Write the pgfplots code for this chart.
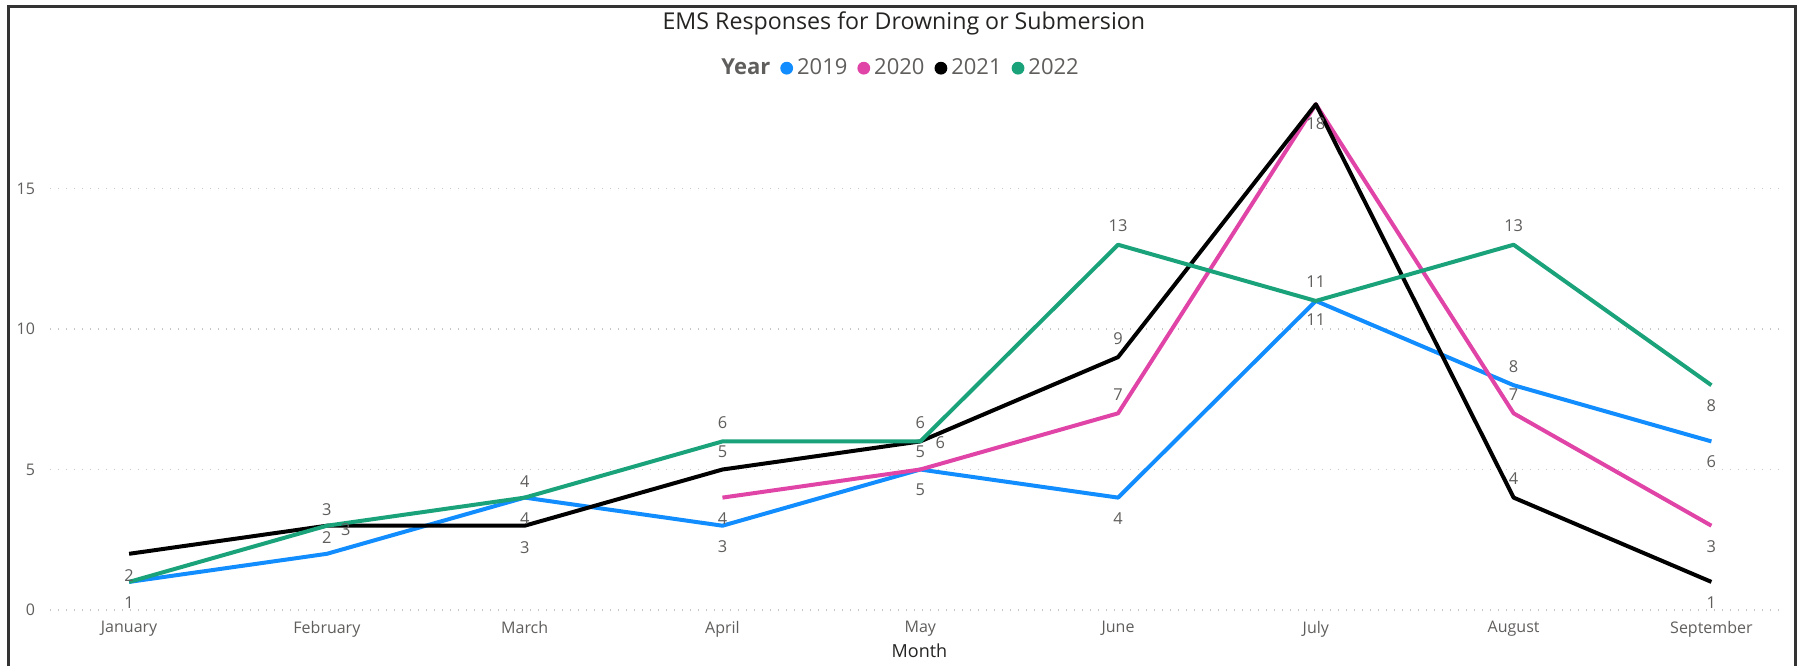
\documentclass[border=0pt]{standalone}
\usepackage{fontspec}
\setmainfont{Open Sans}
\usepackage{pgfplots}
\usepackage{pgfplotstable}
\pgfplotsset{compat=1.18}
\definecolor{c2019}{HTML}{118DFF}
\definecolor{c2020}{HTML}{E044A7}
\definecolor{c2021}{HTML}{000000}
\definecolor{c2022}{HTML}{1AA37A}
\definecolor{lblgray}{HTML}{605E5C}
\definecolor{titlegray}{HTML}{252423}
\definecolor{framegray}{HTML}{333333}

% x y dx dy lab  (dx, dy: label offset in pt)
\pgfplotstableread{
x y dx dy lab
0 1 0 -10.3 1
1 2 0 8.0 2
2 4 0 -10.3 4
3 3 0 -10.3 3
4 5 0 -10.3 5
5 4 0 -10.3 4
6 11 0 -9.6 11
7 8 0 9.2 8
8 6 0 -10.3 6
}\tblA
\pgfplotstableread{
x y dx dy lab
3 4 0 -10.3 4
4 5 0 8.9 5
5 7 0 9.1 7
6 18 0 0 {}
7 7 0 9.1 7
8 3 0 -10.3 3
}\tblB
\pgfplotstableread{
x y dx dy lab
0 2 0 -10.8 2
1 3 9.4 -1.8 3
2 3 0 -11.2 3
3 5 0 8.9 5
4 6 10 -0.7 6
5 9 0 9.0 9
6 18 0 -9.8 18
7 4 0 9.3 4
8 1 0 -10.5 1
}\tblC
\pgfplotstableread{
x y dx dy lab
0 1 0 0 {}
1 3 0 8.0 3
2 4 0 7.9 4
3 6 0 9.3 6
4 6 0 9.3 6
5 13 0 9.4 13
6 11 0 9.6 11
7 13 0 9.6 13
8 8 0 -10.3 8
}\tblD

\pgfplotsset{
  ems line/.style={
    line width=2pt, mark=none, line join=round,
    point meta=explicit symbolic,
    visualization depends on={\thisrow{dx}\as\mydx},
    visualization depends on={\thisrow{dy}\as\mydy},
    nodes near coords={\pgfplotspointmeta},
    every node near coord/.style={anchor=center, inner sep=0pt,
      xshift=\mydx pt, yshift=\mydy pt,
      font=\fontsize{8.2}{9.8}\selectfont, text=lblgray},
  },
}

\begin{document}
\begin{tikzpicture}
\useasboundingbox (0,0) rectangle (898.5pt,333pt);
\begin{axis}[
  at={(25pt,28pt)}, anchor=south west,
  scale only axis,
  width=866pt, height=258.5pt,
  xmin=-0.40, xmax=8.357,
  ymin=0, ymax=18.4,
  clip=false,
  axis line style={draw=none},
  major tick length=0pt,
  xtick={0,...,8},
  xticklabels={January,February,March,April,May,June,July,August,September},
  ytick={0,5,10,15},
  ymajorgrids=true,
  grid style={gray!45, line width=0.6pt, dash pattern=on 0.6pt off 3.4pt},
  /pgf/number format/assume math mode=true,
  tick label style={font=\fontsize{8}{9.6}\selectfont, text=lblgray},
  yticklabel style={xshift=-4pt},
  xticklabel style={yshift=-2pt},
  xlabel={Month},
  xlabel style={at={(axis description cs:0.502,0)}, anchor=center, yshift=-20.5pt,
    font=\fontsize{9}{10}\selectfont, text=titlegray},
  every axis title shift=0pt,
  title={EMS Responses for Drowning or Submersion},
  title style={at={(axis description cs:0.493,1.135)}, anchor=center,
    font=\fontsize{11.6}{13}\selectfont, text=titlegray},
  legend columns=5,
  legend image code/.code={\fill[#1, draw=none] (0pt,0pt) circle (3.2pt);},
  legend style={at={(axis description cs:0.4908,1.048)}, anchor=center,
    draw=none, fill=none, font=\fontsize{11}{12}\selectfont, text=lblgray,
    cells={anchor=west}, inner sep=0pt,
    /tikz/every even column/.append style={column sep=3pt}},
]
\addlegendimage{empty legend}
\addplot[ems line, c2019] table[x=x, y=y, meta=lab] {\tblA};
\addplot[ems line, c2020] table[x=x, y=y, meta=lab] {\tblB};
\addplot[ems line, c2021] table[x=x, y=y, meta=lab] {\tblC};
\addplot[ems line, c2022] table[x=x, y=y, meta=lab] {\tblD};
\legend{\textbf{Year},2019,2020,2021,2022}
\end{axis}
\draw[framegray, line width=1.5pt] (4pt,0pt) -- (4pt,329.5pt) -- (897.5pt,329.5pt) -- (897.5pt,0pt);
\end{tikzpicture}
\end{document}
